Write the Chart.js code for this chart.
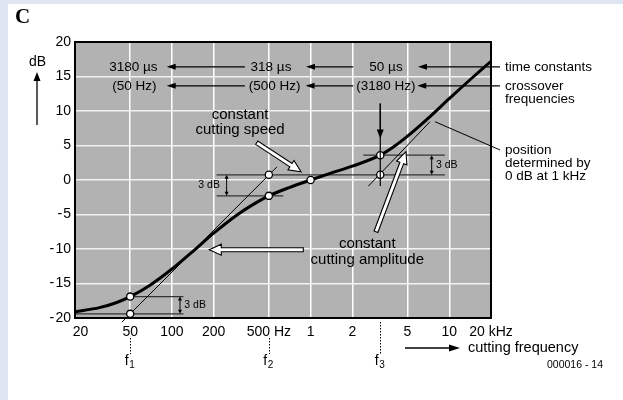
<!DOCTYPE html>
<html>
<head>
<meta charset="utf-8">
<script src="https://cdn.jsdelivr.net/npm/chart.js@4/dist/chart.umd.min.js"></script>
<style>
html, body { margin: 0; padding: 0; background: #fff; }
#wrap { position: relative; width: 623px; height: 400px; }
</style>
</head>
<body>
<div id="wrap"><canvas id="riaa" width="623" height="400"></canvas></div>
<script>
// cutting curve (Hz / dB)
var curveFreq = [20, 30, 40, 50, 70, 100, 150, 200, 300, 400, 500, 700, 1000, 1400, 2000, 3180, 4000, 5000, 7000, 10000, 15000, 20000];
var curveDb   = [-19.1, -18.5, -17.75, -16.9, -15.2, -12.9, -9.9, -7.7, -4.95, -3.35, -2.3, -1.1, 0, 1.0, 2.0, 3.6, 4.85, 6.35, 8.9, 11.8, 15.0, 17.2];

// marked points (open circles)
var dotFreq = [50, 50, 500, 500, 1000, 3180, 3180];
var dotDb   = [-16.9, -19.4, 0.75, -2.3, 0, 3.6, 0.75];

// 20 dB/decade asymptotes
var lowSlopeFreq  = [43.6, 572];
var lowSlopeDb    = [-20.6, 1.9];
var highSlopeFreq = [2607, 7262];
var highSlopeDb   = [-0.9, 8.45];

// 3 dB reference levels
var refFrom = [20, 50, 210, 210, 2400];
var refTo   = [121, 121, 635, 9300, 9300];
var refDb   = [-19.4, -16.9, -2.3, 0.75, 3.6];

// axes
var xTicks = [20, 50, 100, 200, 500, 1000, 2000, 5000, 10000, 20000];
var xTickLabels = ['20', '50', '100', '200', '500 Hz', '1', '2', '5', '10', '20 kHz'];
var yTicks = [-20, -15, -10, -5, 0, 5, 10, 15, 20];

// the three corner frequencies and their labels
var cornerFreq = [50, 500, 3180];
var timeConstants = ['3180 \u00b5s', '318 \u00b5s', '50 \u00b5s'];
var crossovers = ['(50 Hz)', '(500 Hz)', '(3180 Hz)'];

function pts(fs, ds) {
	return fs.map(function(f, i){ return {x: f, y: ds[i]}; });
}

var FONT = '"Liberation Sans", Arial, sans-serif';

function txt(g, s, x, y, size, align, pre) {
	g.font = (pre || '') + size + 'px ' + FONT;
	g.textAlign = align || 'center';
	g.textBaseline = 'middle';
	g.fillStyle = '#000';
	g.fillText(s, x, y);
}

function arrow(g, x1, y1, x2, y2, len, half, lw) {
	var a = Math.atan2(y2 - y1, x2 - x1), c = Math.cos(a), s = Math.sin(a);
	var bx = x2 - len * c, by = y2 - len * s;
	g.beginPath(); g.moveTo(x1, y1); g.lineTo(bx + c, by + s);
	g.lineWidth = lw || 1.2; g.strokeStyle = '#000'; g.stroke();
	g.beginPath(); g.moveTo(x2, y2);
	g.lineTo(bx - s * half, by + c * half);
	g.lineTo(bx + s * half, by - c * half);
	g.closePath(); g.fillStyle = '#000'; g.fill();
}

function hollowArrow(g, x1, y1, x2, y2) {
	var a = Math.atan2(y2 - y1, x2 - x1), c = Math.cos(a), s = Math.sin(a);
	var len = 12, hw = 5.5, sw = 2;
	var bx = x2 - len * c, by = y2 - len * s, nx = -s, ny = c;
	g.beginPath();
	g.moveTo(x1 + nx * sw, y1 + ny * sw);
	g.lineTo(bx + nx * sw, by + ny * sw);
	g.lineTo(bx + nx * hw, by + ny * hw);
	g.lineTo(x2, y2);
	g.lineTo(bx - nx * hw, by - ny * hw);
	g.lineTo(bx - nx * sw, by - ny * sw);
	g.lineTo(x1 - nx * sw, y1 - ny * sw);
	g.closePath();
	g.fillStyle = '#fff'; g.fill();
	g.lineWidth = 1.1; g.strokeStyle = '#000'; g.stroke();
}

function dim(g, x, yTop, yBot, label, lx, align) {
	var m = (yTop + yBot) / 2;
	arrow(g, x, m, x, yTop, 4, 2, 1);
	arrow(g, x, m, x, yBot, 4, 2, 1);
	txt(g, label, lx, m, 10.5, align);
}

var drawing = {
	id: 'riaaDrawing',
	beforeDraw: function(c) {
		var g = c.ctx, a = c.chartArea;
		g.save();
		g.fillStyle = '#dfe6f2';
		g.fillRect(0, 0, c.width, c.height);
		g.fillStyle = '#fff';
		g.fillRect(8, 4, c.width - 8, c.height - 4);
		g.fillStyle = '#b2b2b2';
		g.fillRect(a.left, a.top, a.right - a.left, a.bottom - a.top);
		g.restore();
	},
	afterDraw: function(c) {
		var g = c.ctx, a = c.chartArea, xs = c.scales.x, ys = c.scales.y;
		var X = function(f){ return xs.getPixelForValue(f); };
		var Y = function(d){ return ys.getPixelForValue(d); };
		g.save();

		// frame
		g.lineWidth = 2; g.strokeStyle = '#000';
		g.strokeRect(a.left, a.top, a.right - a.left, a.bottom - a.top);

		// tick labels
		yTicks.forEach(function(v){
			txt(g, v < 0 ? '-\u200a' + (-v) : String(v), a.left - 4, Y(v), 14, 'right');
		});
		xTicks.forEach(function(v, i){
			var x = X(v);
			if (i === 0) x += 5.5;
			txt(g, xTickLabels[i], x, a.bottom + 14, 14, 'center');
		});

		// panel letter and y title
		g.font = 'bold 21px "Liberation Serif", serif';
		g.textAlign = 'left'; g.textBaseline = 'alphabetic'; g.fillStyle = '#000';
		g.fillText('C', 15, 23);
		txt(g, 'dB', 37.5, 62.5, 14, 'center');
		arrow(g, 37, 125, 37, 72, 9, 3.5, 1.3);

		// time constants / crossover rows
		var row1 = 16.4, row2 = 13.65;
		var textF1 = [52.7, 518, 3497], textF2 = [53.6, 551, 3497];
		timeConstants.forEach(function(s, i){ txt(g, s, X(textF1[i]), Y(row1), 13.5, 'center'); });
		crossovers.forEach(function(s, i){ txt(g, s, X(textF2[i]), Y(row2), 13.5, 'center'); });
		[[336, 91.7], [2030, 927], [23200, 5950]].forEach(function(p){
			arrow(g, X(p[0]), Y(row1), X(p[1]), Y(row1), 9, 3, 1.2);
		});
		[[336, 91.7], [2030, 920], [23200, 5880]].forEach(function(p){
			arrow(g, X(p[0]), Y(row2), X(p[1]), Y(row2), 9, 3, 1.2);
		});
		txt(g, 'time constants', a.right + 14, Y(row1), 13.5, 'left');
		txt(g, 'crossover', a.right + 14, Y(row2), 13.5, 'left');
		txt(g, 'frequencies', a.right + 14, Y(row2) + 13, 13.5, 'left');

		// position note
		g.beginPath(); g.moveTo(X(7890), Y(8.45)); g.lineTo(a.right + 9, Y(4.35));
		g.lineWidth = 1; g.strokeStyle = '#000'; g.stroke();
		txt(g, 'position', a.right + 14, Y(4.35), 13.5, 'left');
		txt(g, 'determined by', a.right + 14, Y(4.35) + 13.3, 13.5, 'left');
		txt(g, '0 dB at 1 kHz', a.right + 14, Y(4.35) + 26, 13.5, 'left');

		// down arrow at f3
		g.beginPath(); g.moveTo(X(3180), Y(11.1)); g.lineTo(X(3180), Y(-0.87));
		g.lineWidth = 1.2; g.stroke();
		arrow(g, X(3180), Y(11.1), X(3180), Y(6.0), 9, 3.5, 1.2);

		// 3 dB markers
		dim(g, X(114.4), Y(-16.9), Y(-19.4), '3 dB', X(122.8), 'left');
		dim(g, X(248), Y(0.75), Y(-2.3), '3 dB', X(222), 'right');
		dim(g, X(7470), Y(3.6), Y(0.75), '3 dB', X(8025), 'left');

		// annotations with hollow arrows
		txt(g, 'constant', X(310), Y(9.4), 15, 'center');
		txt(g, 'cutting speed', X(310), Y(7.2), 15, 'center');
		hollowArrow(g, X(409), Y(5.4), X(853), Y(1.2));
		hollowArrow(g, X(886), Y(-10.1), X(186), Y(-10.1));
		hollowArrow(g, X(2961), Y(-7.5), X(4875), Y(4.1));
		txt(g, 'constant', X(2563), Y(-9.2), 15, 'center');
		txt(g, 'cutting amplitude', X(2563), Y(-11.6), 15, 'center');

		// f1 f2 f3 markers
		g.setLineDash([1.5, 1.5]); g.lineWidth = 1;
		cornerFreq.forEach(function(f, i){
			var x = Math.round(X(f)) + 0.5;
			g.beginPath();
			g.moveTo(x, i === 2 ? a.bottom + 4 : a.bottom + 20);
			g.lineTo(x, a.bottom + 36);
			g.stroke();
		});
		g.setLineDash([]);
		cornerFreq.forEach(function(f, i){
			var x = X(f) - 5.5;
			g.font = '14px ' + FONT; g.textAlign = 'left'; g.textBaseline = 'alphabetic'; g.fillStyle = '#000';
			g.fillText('f', x, a.bottom + 47);
			g.font = '10px ' + FONT;
			g.fillText(String(i + 1), x + 4.5, a.bottom + 50);
		});

		// x title
		arrow(g, 405, a.bottom + 30, 460, a.bottom + 30, 11, 3.5, 1.3);
		txt(g, 'cutting frequency', 468, a.bottom + 30, 14.5, 'left');
		txt(g, '000016 - 14', 547, a.bottom + 47, 10.5, 'left');

		g.restore();
	}
};

var datasets = [
	{ data: pts(dotFreq, dotDb), showLine: false, pointRadius: 3.6, pointBackgroundColor: '#fff', pointBorderColor: '#000', pointBorderWidth: 1.3 },
	{ data: pts(curveFreq, curveDb), borderColor: '#000', borderWidth: 3, pointRadius: 0, cubicInterpolationMode: 'monotone' },
	{ data: pts(lowSlopeFreq, lowSlopeDb), borderColor: '#000', borderWidth: 1, pointRadius: 0, clip: false },
	{ data: pts(highSlopeFreq, highSlopeDb), borderColor: '#000', borderWidth: 1, pointRadius: 0 }
];
refDb.forEach(function(d, i){
	datasets.push({ data: pts([refFrom[i], refTo[i]], [d, d]), borderColor: '#333', borderWidth: 1.3, pointRadius: 0 });
});

var chart = new Chart(document.getElementById('riaa'), {
	type: 'line',
	data: { datasets: datasets },
	options: {
		responsive: false,
		animation: false,
		events: [],
		layout: { padding: { top: 42, right: 132, left: 0, bottom: 0 } },
		plugins: { legend: { display: false }, tooltip: { enabled: false } },
		scales: {
			x: {
				type: 'logarithmic', min: 20, max: 20000,
				afterBuildTicks: function(s){ s.ticks = xTicks.map(function(v){ return {value: v}; }); },
				afterFit: function(s){ s.height = 82; },
				ticks: { display: false },
				grid: { color: '#fff', lineWidth: 1.5, drawTicks: false },
				border: { display: false }
			},
			y: {
				min: -20, max: 20,
				afterBuildTicks: function(s){ s.ticks = yTicks.map(function(v){ return {value: v}; }); },
				afterFit: function(s){ s.width = 75; },
				ticks: { display: false },
				grid: { color: '#f2f2f2', lineWidth: 1.5, drawTicks: false },
				border: { display: false }
			}
		}
	},
	plugins: [drawing]
});
</script>
</body>
</html>
